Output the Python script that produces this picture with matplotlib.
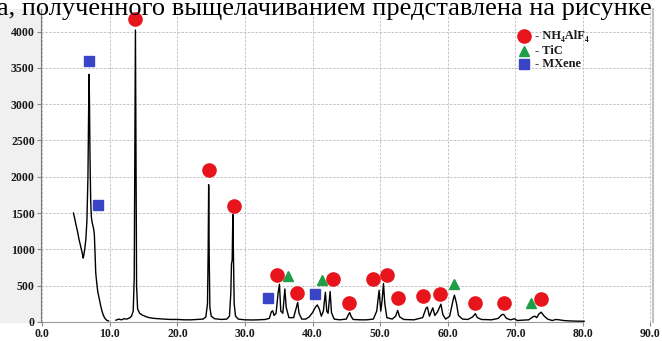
# -*- coding: utf-8 -*-

import numpy as np
import matplotlib.pyplot as plt
from matplotlib.patches import Rectangle

# XRD pattern, 2theta (deg) vs counts; low-angle piece ends before the gap
tt_lo = [4.6, 4.8, 5.0, 5.2, 5.4, 5.6, 5.8, 5.95, 6.05, 6.15, 6.3, 6.45, 6.6,
         6.75, 6.85, 6.92, 6.98, 7.05, 7.15, 7.25, 7.35, 7.45, 7.6, 7.7, 7.8,
         7.9, 8.05, 8.2, 8.4, 8.6, 8.8, 9.0, 9.2, 9.4, 9.6, 9.8]
cnt_lo = [1500, 1420, 1330, 1250, 1150, 1070, 990, 930, 880, 930, 1020, 1150,
          1400, 2000, 2900, 3410, 3000, 2300, 1700, 1450, 1380, 1340, 1280,
          1200, 950, 680, 540, 420, 330, 240, 160, 100, 60, 35, 20, 15]

tt_hi = [10.9, 11.3, 11.7, 12.1, 12.5, 12.9, 13.2, 13.45, 13.6, 13.7, 13.78,
         13.86, 13.95, 14.1, 14.4, 14.8, 15.3, 15.8, 16.5, 17.2, 18.0, 19.0,
         20.0, 21.0, 22.0, 23.0, 23.8, 24.2, 24.45, 24.55, 24.62, 24.7, 24.8,
         25.0, 25.5, 26.5, 27.3, 27.7, 27.9, 28.0, 28.1, 28.2, 28.28, 28.4,
         28.6, 29.0, 30.0, 31.0, 32.0, 33.0, 33.6, 33.9, 34.1, 34.3, 34.6,
         34.9, 35.1, 35.3, 35.6, 35.9, 36.1, 36.5, 37.2, 37.6, 37.8, 38.0,
         38.4, 39.0, 39.5, 40.0, 40.4, 40.7, 41.0, 41.3, 41.6, 41.9, 42.1,
         42.3, 42.6, 42.8, 43.2, 44.0, 45.0, 45.3, 45.5, 45.7, 46.0, 47.0,
         48.0, 49.0, 49.5, 49.85, 50.1, 50.3, 50.5, 50.7, 51.0, 51.8, 52.3,
         52.6, 52.9, 53.5, 55.0, 56.3, 56.8, 57.0, 57.3, 57.6, 57.8, 58.1,
         58.5, 59.0, 59.3, 59.7, 60.3, 60.8, 61.0, 61.3, 61.6, 62.2, 63.0,
         63.7, 64.1, 64.4, 65.0, 66.5, 67.5, 68.0, 68.3, 68.7, 69.3, 69.9,
         70.3, 71.0, 72.0, 72.6, 72.9, 73.2, 73.5, 73.85, 74.3, 74.8, 75.5,
         76.0, 76.5, 77.2, 78.0, 79.0, 80.2]
cnt_hi = [25, 40, 30, 45, 40, 55, 80, 150, 600, 2500, 4020,
          2500, 500, 180, 120, 95, 75, 60, 50, 45, 40, 35,
          35, 30, 30, 35, 40, 70, 250, 1000, 1890, 900, 200,
          80, 45, 35, 40, 80, 400, 800, 850, 1480, 1000, 250,
          80, 40, 30, 28, 30, 35, 50, 140, 155, 90, 120,
          400, 520, 150, 120, 455, 200, 60, 60, 200, 270, 120,
          40, 40, 70, 130, 200, 235, 180, 80, 150, 410, 150,
          120, 420, 130, 40, 30, 40, 100, 130, 80, 35, 30,
          30, 40, 150, 435, 150, 300, 530, 250, 60, 40, 80,
          160, 70, 35, 30, 60, 190, 205, 80, 150, 195, 90,
          140, 245, 100, 40, 80, 300, 370, 260, 90, 40, 35,
          70, 115, 60, 35, 30, 50, 100, 105, 50, 30, 45,
          20, 25, 30, 70, 80, 60, 110, 135, 80, 40, 20,
          35, 30, 20, 15, 12, 10]

# phase markers
nh4_x = [13.7, 24.7, 28.3, 34.7, 37.75, 43.0, 45.45, 49.0, 51.0, 52.6,
         56.4, 58.8, 64.1, 68.3, 73.85]
nh4_y = [4170, 2090, 1600, 643, 404, 597, 260, 597, 643, 325,
         353, 380, 260, 260, 321]
tic_x = [36.3, 41.4, 61.0, 72.3]
tic_y = [633, 574, 528, 260]
mx_x = [6.93, 8.3, 33.45, 40.4]
mx_y = [3600, 1611, 335, 380]

red = '#e8141c'
green = '#1f9e48'
blue = '#3a44c6'
serif = ['Liberation Serif', 'DejaVu Serif']

W, H = 662, 341
fig = plt.figure(figsize=(W / 100, H / 100), dpi=100)
x0, x1 = 41 / W, 653 / W
y0, y1 = (H - 322) / H, (H - 9) / H
ax = fig.add_axes([x0, y0, x1 - x0, y1 - y0])

# pale strip behind the y labels
fig.patches.append(Rectangle((0, y0), x0, y1 - y0, transform=fig.transFigure,
                             color='#f0f0f0', zorder=-10))

ax.plot(tt_lo, cnt_lo, color='k', lw=1.0)
ax.plot(tt_hi, cnt_hi, color='k', lw=1.0)

ax.plot(nh4_x, nh4_y, 'o', color=red, ms=9.5, mec=red, ls='none')
ax.plot(tic_x, tic_y, '^', color=green, ms=7, ls='none')
ax.plot(mx_x, mx_y, 's', color=blue, ms=7.5, ls='none')

ax.set_xlim(-0.2, 90.4)
ax.set_ylim(0, 4310)
ax.set_xticks(np.arange(0, 91, 10))
ax.set_xticklabels(['%.1f' % v for v in np.arange(0, 91, 10)])
ax.set_yticks(np.arange(0, 4001, 500))

ax.grid(True, color='#c4c4c4', ls=(0, (2.5, 1.5)), lw=0.7)
ax.set_axisbelow(True)

for lab in ax.get_xticklabels() + ax.get_yticklabels():
    lab.set_family(serif)
    lab.set_weight('bold')
    lab.set_fontsize(8.5)
    lab.set_color('#1a1a1a')
ax.tick_params(axis='both', direction='out', length=3, width=0.8,
               color='#888888', pad=1.5)

ax.spines['top'].set_visible(False)
ax.spines['left'].set_color('#7a7a7a')
ax.spines['bottom'].set_color('#9a9a9a')
ax.spines['bottom'].set_bounds(0, 80)
ax.spines['right'].set_color('#c0c0c0')
ax.spines['right'].set_linewidth(1.5)

# legend drawn by hand
lx = 0.79
rows = [(0.915, 'o', red, 9.5, '- NH₄AlF₄'),
        (0.865, '^', green, 7, '- TiC'),
        (0.825, 's', blue, 7.5, '- MXene')]
for ry, m, c, s, t in rows:
    ax.plot([lx], [ry], m, color=c, ms=s, transform=ax.transAxes, clip_on=False)
    ax.text(lx + 0.018, ry, t, transform=ax.transAxes, va='center', ha='left',
            family=serif, weight='bold', fontsize=9, color='#1a1a1a')

# line of body text running over the top of the figure
fig.text(-0.004, 1 - 15 / H, 'а, полученного выщелачиванием представлена на рисунке',
         family=serif, fontsize=19, ha='left', va='baseline', color='k')

fig.savefig('out.png', dpi=100)
